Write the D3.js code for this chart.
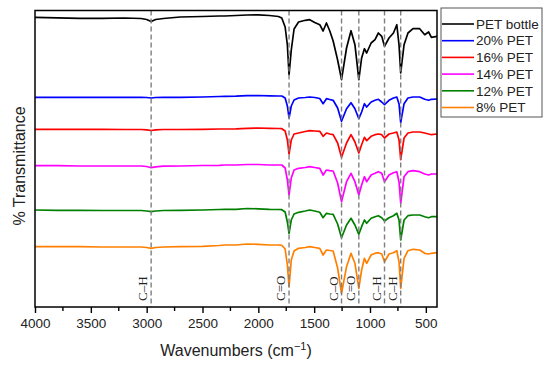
<!DOCTYPE html>
<html>
<head>
<meta charset="utf-8">
<script src="https://cdn.jsdelivr.net/npm/d3@7/dist/d3.min.js"></script>
<style>
  body { margin: 0; background: #fff; }
  svg { font-family: "Liberation Sans", Arial, sans-serif; }
</style>
</head>
<body>
<div id="chart"></div>
<script>
// wavenumber grid shared by all spectra (cm-1)
var wavenumbers = [4000, 3800, 3600, 3400, 3200, 3050, 3000, 2960, 2920, 2850, 2700, 2500, 2350, 2300, 2200, 2100, 2000, 1900,
  1820, 1790, 1760, 1740, 1725, 1705, 1680, 1640, 1580, 1540, 1495, 1450, 1420, 1390, 1360, 1330, 1290, 1255, 1210, 1170,
  1135, 1100, 1075, 1050, 1030, 990, 955, 925, 895, 870, 830, 790, 760, 740, 725, 695, 660, 615, 555, 510, 475, 450, 400];

// offset transmittance (arbitrary units, stacked)
var petBottle = [289.7, 289.2, 288.7, 288.7, 289, 288.5, 287.5, 285.5, 287.5, 288.5, 290, 290.5, 291, 291, 291.5, 292, 292.2, 291.5,
  290.5, 289, 280, 262, 232.3, 257, 278, 285, 286.7, 287.3, 284.5, 282.3, 276, 284, 276, 266, 247, 227.3, 259, 276.3,
  262.3, 227.3, 249, 258.3, 254, 264, 267.3, 274, 270.7, 260.7, 269, 274, 282.3, 262, 234, 262.3, 274, 278.3, 278.3, 272.3, 275, 269.7, 270.7];
var pet20 = [209.7, 209.7, 209.7, 209.7, 209.7, 209.7, 209.5, 209, 209.5, 209.7, 209.7, 210, 210.5, 210.7, 210.8, 211.3, 211.5, 211.2,
  211, 211, 209, 201, 189, 201, 207, 209, 209.5, 210, 209.5, 208.5, 203.3, 208.3, 207.5, 206.7, 199, 185.7, 198.3, 204.3,
  198.3, 188.3, 195, 203.3, 200, 205, 206.7, 207.7, 205, 202.3, 206.7, 209, 210, 203, 184.3, 203.3, 209, 210, 210, 207.7, 206.7, 207.7, 208];
var pet16 = [177.7, 177.7, 177.7, 177.7, 177.5, 177.5, 177.2, 176.5, 177.2, 177.5, 177.5, 177.7, 178, 178, 178.2, 178.7, 179, 178.7,
  178.5, 178.3, 176, 167, 153, 167, 173, 174, 175.5, 176.3, 176, 175.7, 170.7, 174, 173, 172.3, 164, 149.7, 164, 172.3,
  165, 154, 162.3, 169.7, 166.3, 170.7, 172.3, 173, 172.3, 169, 173, 174, 175, 167, 147.3, 169, 174, 175, 175, 174, 173, 172.3, 173];
var pet14 = [141.3, 141.3, 141, 141, 141, 141, 140.5, 139.3, 140.2, 140.8, 141, 141.5, 141.7, 142, 142, 142.5, 142.5, 142,
  142, 142, 139, 127, 112, 129, 137, 138.7, 139.5, 140.3, 139.5, 138.7, 132, 137, 136.3, 136, 124, 105.3, 125.3, 133.7,
  125.3, 112, 122, 130.3, 125.3, 132, 133.7, 135.3, 133.7, 125.3, 132, 134.3, 135.3, 125, 103.7, 130.3, 135.3, 136.3, 135.3, 133, 132, 133, 133];
var pet12 = [97, 96.7, 96.7, 96.5, 96.5, 96.5, 96, 95.3, 96, 96.5, 96.7, 97, 97.5, 97.7, 97.7, 98.5, 98.2, 97.7,
  97.5, 97.3, 95, 85, 73.7, 87, 93, 94.7, 96, 97, 96, 94.7, 89.3, 93.7, 93, 92.7, 83, 69.3, 82, 88.7,
  82, 72.7, 80.3, 87, 83.7, 88.7, 90.3, 91.3, 89.3, 86, 89.3, 91.3, 93.7, 87, 67, 87, 91.3, 92, 92, 90.3, 89.3, 90.3, 90.3];
var pet8 = [60.3, 60.3, 60.3, 60, 60, 60, 59.5, 58.7, 59.5, 60, 60.3, 60.7, 61.5, 62, 62, 63, 62.7, 62,
  62, 61.7, 58, 42, 20.3, 47, 56, 58.7, 59.5, 60.3, 59.5, 58.7, 52, 57, 56.5, 56, 39, 13.7, 40.3, 53.7,
  43.7, 18.7, 37, 48.7, 43.7, 52, 53.7, 54.3, 53, 45.3, 53, 54.3, 56.3, 45, 18.7, 48.7, 56.3, 57.7, 57, 53.7, 53, 53.7, 54.3];

var seriesNames = ["PET bottle", "20% PET", "16% PET", "14% PET", "12% PET", "8% PET"];
var seriesValues = [petBottle, pet20, pet16, pet14, pet12, pet8];
var seriesColors = ["#000000", "#0000ff", "#ff0000", "#ff00ff", "#007f00", "#ff8000"];

// assigned bands (dashed markers)
var bandPositions = [2960, 1725, 1255, 1100, 870, 725];
var bandLabels = ["C\u2013H", "C=O", "C\u2013O", "C=O", "C\u2013H", "C\u2013H"];

var majorTicks = [4000, 3500, 3000, 2500, 2000, 1500, 1000, 500];
var minorTicks = [3750, 3250, 2750, 2250, 1750, 1250, 750];

// set the dimensions and margins of the graph
var margin = { top: 10.5, right: 113, bottom: 60, left: 35 },
  width = 550 - margin.left - margin.right,
  height = 367 - margin.top - margin.bottom;

var svg = d3.select("#chart")
  .append("svg")
  .attr("width", 550)
  .attr("height", 367)
  .append("g")
  .attr("transform", "translate(" + margin.left + "," + margin.top + ")");

var x = d3.scaleLinear().domain([4000, 400]).range([0, width]);
var y = d3.scaleLinear().domain([0, 296.5]).range([height, 0]);

// spectra
var line = d3.line()
  .x(function (d) { return x(d[0]); })
  .y(function (d) { return y(d[1]); });

svg.append("g")
  .selectAll("path")
  .data(seriesValues)
  .enter().append("path")
  .attr("fill", "none")
  .attr("stroke", function (d, i) { return seriesColors[i]; })
  .attr("stroke-width", 1.7)
  .attr("stroke-linejoin", "round")
  .attr("d", function (vals) { return line(wavenumbers.map(function (w, j) { return [w, vals[j]]; })); });

// dashed band markers
svg.append("g")
  .selectAll("line")
  .data(bandPositions)
  .enter().append("line")
  .attr("x1", function (d) { return x(d); })
  .attr("x2", function (d) { return x(d); })
  .attr("y1", 0)
  .attr("y2", height)
  .attr("stroke", "#7f7f7f")
  .attr("stroke-width", 1.4)
  .attr("stroke-dasharray", "5,3");

svg.append("g")
  .selectAll("text")
  .data(bandPositions)
  .enter().append("text")
  .attr("transform", function (d) { return "translate(" + (x(d) - 4) + "," + (height - 6) + ")rotate(-90)"; })
  .style("font-family", "'Liberation Serif', 'DejaVu Serif', serif")
  .style("font-size", "13px")
  .attr("fill", "#222")
  .text(function (d, i) { return bandLabels[i]; });

// x axis, major and minor ticks
var xAxis = svg.append("g")
  .attr("transform", "translate(0," + height + ")")
  .call(d3.axisBottom(x).tickValues(majorTicks).tickSize(6).tickPadding(5).tickFormat(d3.format("d")));
xAxis.select(".domain").remove();
xAxis.selectAll("line").attr("stroke-width", 1.4);
xAxis.selectAll("text")
  .style("font-family", "'Liberation Sans', Arial, sans-serif")
  .style("font-size", "13.5px")
  .attr("fill", "#222");

svg.append("g")
  .attr("transform", "translate(0," + height + ")")
  .selectAll("line")
  .data(minorTicks)
  .enter().append("line")
  .attr("x1", function (d) { return x(d); })
  .attr("x2", function (d) { return x(d); })
  .attr("y1", 0)
  .attr("y2", 4)
  .attr("stroke", "#000")
  .attr("stroke-width", 1.4);

// frame
svg.append("rect")
  .attr("width", width)
  .attr("height", height)
  .attr("fill", "none")
  .attr("stroke", "#000")
  .attr("stroke-width", 1.5);

// axis labels
var xLabel = svg.append("text")
  .attr("x", width / 2)
  .attr("y", height + 49)
  .attr("text-anchor", "middle")
  .style("font-size", "16px")
  .attr("fill", "#222");
xLabel.append("tspan").text("Wavenumbers (cm");
xLabel.append("tspan").attr("dy", -6).style("font-size", "11px").text("\u22121");
xLabel.append("tspan").attr("dy", 6).text(")");

svg.append("text")
  .attr("transform", "rotate(-90)")
  .attr("x", -(166 - margin.top))
  .attr("y", 25 - margin.left)
  .attr("text-anchor", "middle")
  .style("font-size", "16px")
  .attr("fill", "#222")
  .text("% Transmittance");

// legend to the right of the plot
var legend = svg.append("g")
  .attr("transform", "translate(" + (width + 4) + "," + (-2.5) + ")");

legend.append("rect")
  .attr("width", 101)
  .attr("height", 109)
  .attr("fill", "#fff")
  .attr("stroke", "#555")
  .attr("stroke-width", 1);

var item = legend.selectAll("g")
  .data(seriesNames)
  .enter().append("g")
  .attr("transform", function (d, i) { return "translate(0," + (16 + i * 16.7) + ")"; });

item.append("line")
  .attr("x1", 1)
  .attr("x2", 33)
  .attr("stroke", function (d, i) { return seriesColors[i]; })
  .attr("stroke-width", 1.6);

item.append("text")
  .attr("x", 35)
  .attr("dy", "0.35em")
  .style("font-size", "13.5px")
  .attr("fill", "#222")
  .text(function (d) { return d; });
</script>
</body>
</html>
